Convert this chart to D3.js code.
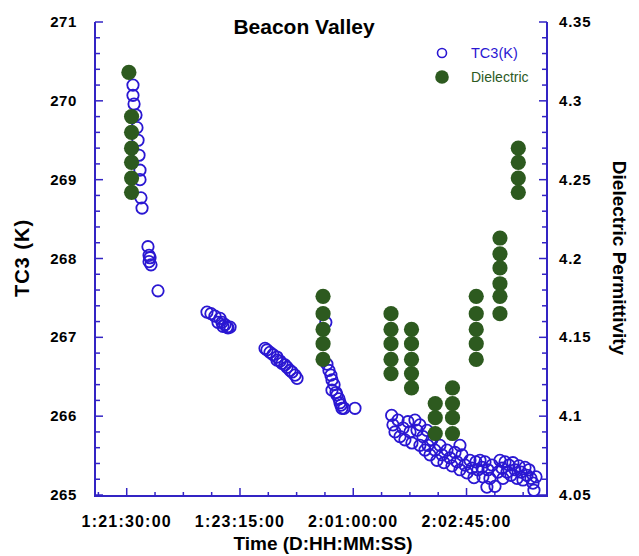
<!DOCTYPE html>
<html><head><meta charset="utf-8">
<script src="https://cdn.jsdelivr.net/npm/d3@7"></script>
<style>body{margin:0;background:#fff}svg{display:block}text{font-family:"Liberation Sans",Arial,Helvetica,sans-serif}</style>
</head><body>
<svg id="c" width="639" height="556"></svg>
<script>
// Time in minutes after 1:21:30:00
const xTickValues = [0, 105, 210, 315];
const xTickLabels = ["1:21:30:00", "1:23:15:00", "2:01:00:00", "2:02:45:00"];
const leftTicks = [265, 266, 267, 268, 269, 270, 271];
const rightTicks = [4.05, 4.1, 4.15, 4.2, 4.25, 4.3, 4.35];

// TC3 (K) readings: [minutes, K]
const tc3 = [
  [5.8,270.20],[5.8,270.07],[6.8,269.96],[8.6,269.82],[9.5,269.66],[10.5,269.50],[11.4,269.31],[12.3,269.12],[12.3,269.00],[13.2,268.77],[14.2,268.64],
  [19.7,268.15],[20.7,268.04],[21.6,268.01],[20.7,267.96],[22.5,267.92],[29.0,267.59],
  [74.4,267.32],[78.1,267.30],[81.8,267.27],[86.5,267.24],[84.6,267.19],[88.3,267.19],[91.1,267.16],[89.2,267.14],[93.0,267.13],[93.9,267.12],[95.8,267.13],
  [128.2,266.86],[130.0,266.84],[132.8,266.81],[135.6,266.78],[139.3,266.75],[139.3,266.71],[142.1,266.70],[143.9,266.67],[146.7,266.65],[148.6,266.62],[151.4,266.58],[153.2,266.56],[156.0,266.52],[157.9,266.48],
  [184.6,267.19],[185.6,266.66],[187.5,266.58],[189.3,266.52],[190.3,266.46],[192.2,266.40],[190.3,266.33],[194.0,266.30],[194.9,266.27],[196.8,266.22],[197.7,266.17],[198.6,266.14],[199.5,266.10],[201.4,266.10],[211.6,266.10],
  [245.6,266.01],[246.8,265.89],[248.7,265.80],[251.5,265.95],[253.3,265.74],[256.1,265.85],[257.9,265.70],[260.7,265.93],[262.6,265.80],[264.4,265.66],
  [267.2,265.95],[269.1,265.82],[271.8,265.89],[271.8,265.63],[274.6,265.74],[276.5,265.57],[278.3,265.82],[279.2,265.63],[281.1,265.51],[282.9,265.70],
  [285.7,265.57],[287.6,265.44],[290.4,265.63],[292.3,265.51],[294.1,265.41],[296.9,265.57],[299.7,265.47],[301.5,265.37],[304.3,265.54],[306.2,265.42],
  [308.9,265.63],[308.9,265.32],[310.8,265.51],[313.6,265.38],[315.4,265.28],[318.2,265.44],[320.1,265.34],[321.9,265.22],[323.7,265.42],[325.6,265.32],
  [327.5,265.44],[329.3,265.35],[330.2,265.23],[332.1,265.42],[333.9,265.10],[334.9,265.32],[336.7,265.21],[338.6,265.38],[341.4,265.11],[344.2,265.29],
  [346.0,265.44],[347.9,265.34],[348.8,265.21],[350.7,265.42],[352.5,265.29],[354.3,265.38],[356.2,265.25],[358.0,265.41],[359.9,265.32],[361.8,265.21],
  [363.6,265.37],[365.5,265.29],[367.3,265.19],[369.2,265.35],[371.0,265.25],[372.9,265.32],[374.7,265.21],[376.6,265.15],[377.5,265.06],[379.4,265.23]
];

// Dielectric permittivity readings: [minutes, value]
const dielectric = [
  [2.0,4.318],[4.5,4.290],[4.5,4.280],[4.5,4.270],[4.5,4.261],[4.5,4.251],[4.5,4.242],
  [182,4.176],[182,4.165],[182,4.155],[182,4.146],[182,4.136],
  [245,4.165],[245,4.155],[245,4.146],[245,4.136],[245,4.127],
  [264,4.155],[264,4.146],[264,4.136],[264,4.127],[264,4.118],
  [286,4.108],[286,4.099],[286,4.089],
  [302,4.118],[302,4.108],[302,4.099],[302,4.089],
  [324,4.176],[324,4.165],[324,4.155],[324,4.146],[324,4.136],
  [346,4.213],[346,4.203],[346,4.194],[346,4.184],[346,4.176],[346,4.165],
  [363,4.270],[363,4.261],[363,4.251],[363,4.242]
];

const blue = "#2a17d2", axisBlue = "#3324c4", green = "#2d5a1f";
const svg = d3.select("#c");
const L = 95, R = 547, T = 22, B = 495;

const x = d3.scaleLinear().domain([-29.4, 389.6]).range([L, R]);
const yL = d3.scaleLinear().domain([265, 271]).range([B, T]);
const yR = d3.scaleLinear().domain([4.05, 4.35]).range([B, T]);

// axes lines
const ax = svg.append("g").attr("stroke", axisBlue).attr("fill", "none");
ax.append("path").attr("d", `M${L},${T}V${B+1}H${R}V${T}`).attr("stroke-width", 2);

// left ticks (inward)
const lMinor = d3.range(0, 31).map(i => 265 + i * 0.2);
lMinor.forEach((v, i) => {
  ax.append("line").attr("x1", L).attr("x2", L + (i % 5 === 0 ? 8 : 5))
    .attr("y1", yL(v)).attr("y2", yL(v)).attr("stroke-width", 1.5);
});
// right ticks (inward)
const rMinor = d3.range(0, 31).map(i => 4.05 + i * 0.01);
rMinor.forEach((v, i) => {
  ax.append("line").attr("x1", R).attr("x2", R - (i % 5 === 0 ? 8 : 5))
    .attr("y1", yR(v)).attr("y2", yR(v)).attr("stroke-width", 1.5);
});
// bottom ticks (inward)
const bMinor = d3.range(-1, 15).map(i => i * 26.25);
bMinor.forEach((v, i) => {
  if (x(v) < L || x(v) > R) return;
  ax.append("line").attr("x1", x(v)).attr("x2", x(v))
    .attr("y1", B + 1).attr("y2", B + 1 - ((i - 1) % 4 === 0 ? 8 : 4)).attr("stroke-width", 1.5);
});

const bold = sel => sel.style("font-weight", "bold");

// tick labels
svg.append("g").selectAll("text").data(leftTicks).join("text")
  .attr("x", 77).attr("y", d => yL(d) + 5).attr("text-anchor", "end")
  .attr("font-size", 15).style("letter-spacing", "0.6px").call(bold).text(d => d);
svg.append("g").selectAll("text").data(rightTicks).join("text")
  .attr("x", 559).attr("y", d => yR(d) + 5).attr("text-anchor", "start")
  .attr("font-size", 15).style("letter-spacing", "0.8px").call(bold).text(d => d);
svg.append("g").selectAll("text").data(xTickValues).join("text")
  .attr("x", d => x(d)).attr("y", 527).attr("text-anchor", "middle")
  .attr("font-size", 16).style("letter-spacing", "1.2px").call(bold).text((d, i) => xTickLabels[i]);

// axis titles
svg.append("text").attr("x", 323).attr("y", 550).attr("text-anchor", "middle")
  .attr("font-size", 19).call(bold).text("Time (D:HH:MM:SS)");
svg.append("text").attr("transform", "translate(29,258) rotate(-90)").attr("text-anchor", "middle")
  .attr("font-size", 20).style("letter-spacing", "1px").call(bold).text("TC3 (K)");
svg.append("text").attr("transform", "translate(613,258) rotate(90)").attr("text-anchor", "middle")
  .attr("font-size", 19).call(bold).text("Dielectric Permittivity");
svg.append("text").attr("x", 304).attr("y", 34).attr("text-anchor", "middle")
  .attr("font-size", 21).call(bold).text("Beacon Valley");

// data
svg.append("g").selectAll("circle").data(tc3).join("circle")
  .attr("cx", d => x(d[0])).attr("cy", d => yL(d[1])).attr("r", 5.7)
  .attr("fill", "none").attr("stroke", blue).attr("stroke-width", 1.8);
svg.append("g").selectAll("circle").data(dielectric).join("circle")
  .attr("cx", d => x(d[0])).attr("cy", d => yR(d[1])).attr("r", 7.6)
  .attr("fill", green);

// legend
const lg = svg.append("g");
lg.append("circle").attr("cx", 442).attr("cy", 53).attr("r", 4.5).attr("fill", "none")
  .attr("stroke", blue).attr("stroke-width", 1.6);
lg.append("text").attr("x", 471).attr("y", 58).attr("font-size", 14.5)
  .attr("fill", blue).text("TC3(K)");
lg.append("circle").attr("cx", 442).attr("cy", 77).attr("r", 6.8).attr("fill", green);
lg.append("text").attr("x", 471).attr("y", 82).attr("font-size", 14)
  .attr("fill", green).text("Dielectric");
</script>
</body></html>
